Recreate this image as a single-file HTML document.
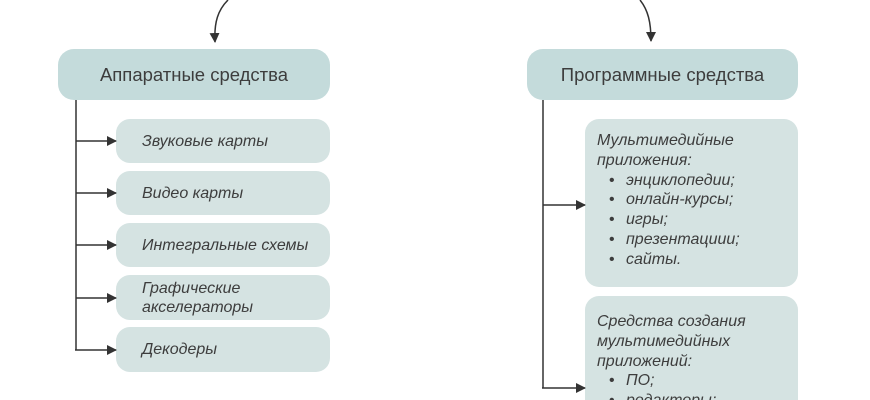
<!DOCTYPE html>
<html><head><meta charset="utf-8"><style>
html,body{margin:0;width:870px;height:400px;overflow:hidden}
body{background:#fff;position:relative;font-family:"Liberation Sans","DejaVu Sans",sans-serif;color:#3d3d3d}
.h{position:absolute;background:#c4dbdb;border-radius:16px;font-size:18.5px;display:flex;align-items:center;justify-content:center}
.s{position:absolute;background:#d5e3e2;border-radius:14px;font-size:16px;font-style:italic;display:flex;align-items:center;box-sizing:border-box;padding-left:26px;line-height:19px}
.b{position:absolute;background:#d5e3e2;border-radius:14px;font-size:16px;font-style:italic;box-sizing:border-box;padding:12px 0 0 12px;line-height:19.8px;overflow:hidden}
ul{margin:0;padding-left:12px;list-style:none}
li:before{content:"•";display:inline-block;width:17px;font-style:normal}
svg{position:absolute;left:0;top:0}
</style></head><body>
<div class="h" style="left:58px;top:49px;width:272px;height:51px">Аппаратные средства</div>
<div class="s" style="left:116px;top:119px;width:214px;height:44px">Звуковые карты</div>
<div class="s" style="left:116px;top:171px;width:214px;height:44px">Видео карты</div>
<div class="s" style="left:116px;top:223px;width:214px;height:44px">Интегральные схемы</div>
<div class="s" style="left:116px;top:275px;width:214px;height:45px">Графические<br>акселераторы</div>
<div class="s" style="left:116px;top:327px;width:214px;height:45px">Декодеры</div>

<div class="h" style="left:527px;top:49px;width:271px;height:51px">Программные средства</div>
<div class="b" style="left:585px;top:119px;width:213px;height:168px">Мультимедийные<br>приложения:<ul><li>энциклопедии;</li><li>онлайн-курсы;</li><li>игры;</li><li>презентациии;</li><li>сайты.</li></ul></div>
<div class="b" style="left:585px;top:296px;width:213px;height:104px;padding-top:16px;border-radius:14px 14px 0 0">Средства создания<br>мультимедийных<br>приложений:<ul><li>ПО;</li><li>редакторы;</li></ul></div>

<svg width="870" height="400" viewBox="0 0 870 400">
<defs><marker id="a" markerWidth="10" markerHeight="10" refX="9" refY="5" orient="auto" markerUnits="userSpaceOnUse"><path d="M0,0 L10,5 L0,10 Z" fill="#333"/></marker></defs>
<g stroke="#333" stroke-width="1.5" fill="none">
<path d="M228,0 C218,10 214,22 215,42" marker-end="url(#a)"/>
<path d="M640,0 C648,10 651,22 651,41" marker-end="url(#a)"/>
<path d="M76,100 V350"/>
<path d="M76,141 H116" marker-end="url(#a)"/>
<path d="M76,193 H116" marker-end="url(#a)"/>
<path d="M76,245 H116" marker-end="url(#a)"/>
<path d="M76,298 H116" marker-end="url(#a)"/>
<path d="M75,350 H116" marker-end="url(#a)"/>
<path d="M543,100 V388"/>
<path d="M543,205 H585" marker-end="url(#a)"/>
<path d="M542,388 H585" marker-end="url(#a)"/>
</g></svg>
</body></html>
